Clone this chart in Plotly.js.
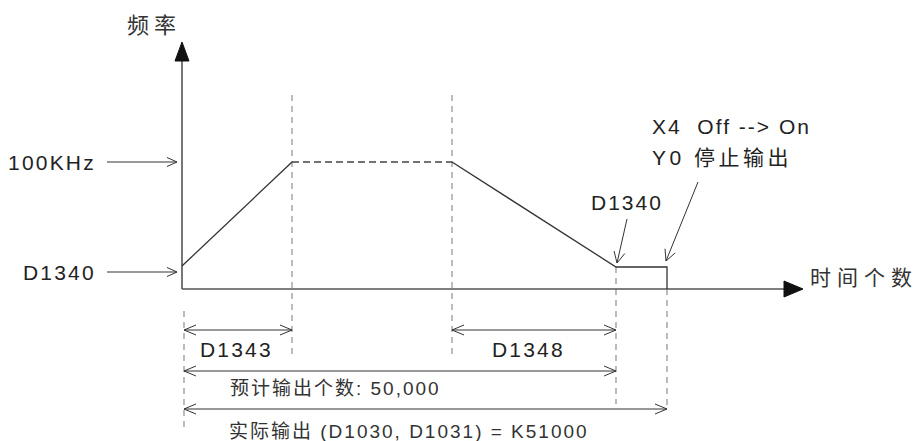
<!DOCTYPE html>
<html>
<head>
<meta charset="utf-8">
<script src="https://cdn.plot.ly/plotly-3.0.1.min.js"></script>
<style>
    html, body { margin: 0; padding: 0; background: #fff; }
    #chart { width: 918px; height: 441px; }
</style>
</head>
<body>
<div id="chart"></div>
<script>
// Diagram units: origin at the axis corner, 1 unit = 1 px
// Frequency profile: accel ramp, plateau (dashed), decel ramp, tail at D1340, stop
const profileX = [0, 110, 270, 434, 485, 485];
const profileY = [23, 127, 127, 22, 22, 0];

// Axis ends
const axisXEnd = 621;
const axisYEnd = 247;

// Vertical dashed marker lines
const markerX = [2, 110, 270, 434, 485];
const markerTop = [-22, 194, 194, 22, 0];
const markerBottom = [-143, -67, -67, -115, -120];

// Dimension (double headed) arrows under the axis
const dimFrom = [2, 270, 2, 2];
const dimTo = [110, 434, 434, 485];
const dimY = [-41, -41, -82, -120];
const dimLabels = ['D1343', 'D1348', '预计输出个数: 50,000', '实际输出 (D1030, D1031) = K51000'];
const dimLabelX = [54, 346, 153, 227];
const dimLabelY = [-60, -60, -99, -142];

// Level arrows on the frequency axis
const levelLabels = ['100KHz', 'D1340'];
const levelY = [127, 17];
const levelArrowFrom = -75;
const levelArrowTo = -5;

// Pointer arrows near the tail
const pointerLabels = ['D1340', 'X4  Off --> On', 'Y0 停止输出'];
const pointerLabelX = [445, 468, 468];
const pointerLabelY = [87, 163, 132];
const pointerFrom = [[445, 70], [516, 107]];
const pointerTo = [[435, 26], [484, 28]];

const FONT = 'Liberation Sans, Arial, Noto Sans CJK SC, sans-serif';
const INK = '#222';

function barbs(xs, ys, tip, from, len, half) {
    const dx = tip[0] - from[0], dy = tip[1] - from[1];
    const d = Math.hypot(dx, dy);
    const ux = dx / d, uy = dy / d;
    const nx = -uy, ny = ux;
    xs.push(tip[0] - ux * len + nx * half, tip[0], tip[0] - ux * len - nx * half, null);
    ys.push(tip[1] - uy * len + ny * half, tip[1], tip[1] - uy * len - ny * half, null);
}

function spaced(text, px) {
    return '<span style="letter-spacing:' + px + 'px">' + text + '</span>';
}

const traces = [];

// vertical markers
const mx = [], my = [];
markerX.forEach((x, i) => { mx.push(x, x, null); my.push(markerTop[i], markerBottom[i], null); });
traces.push({ x: mx, y: my, mode: 'lines', line: { color: '#8f8f8f', width: 1.2, dash: '6px,5px' } });

// axes
traces.push({ x: [0, 0, null, 0, axisXEnd - 10], y: [axisYEnd - 10, 0, null, 0, 0], mode: 'lines',
    line: { color: '#555', width: 1.6 } });
// axis arrowheads (filled)
traces.push({ x: [0, -7, 7, 0], y: [axisYEnd, axisYEnd - 19, axisYEnd - 19, axisYEnd], mode: 'lines',
    fill: 'toself', fillcolor: '#111', line: { color: '#111', width: 1 } });
traces.push({ x: [axisXEnd, axisXEnd - 19, axisXEnd - 19, axisXEnd], y: [0, 8, -8, 0], mode: 'lines',
    fill: 'toself', fillcolor: '#111', line: { color: '#111', width: 1 } });

// profile: solid parts and dashed plateau
const sx = [profileX[0], profileX[1], null, profileX[2], profileX[3], profileX[4], profileX[5]];
const sy = [profileY[0], profileY[1], null, profileY[2], profileY[3], profileY[4], profileY[5]];
traces.push({ x: sx, y: sy, mode: 'lines', line: { color: '#333', width: 1.3 } });
traces.push({ x: [profileX[1], profileX[2]], y: [profileY[1], profileY[2]], mode: 'lines',
    line: { color: '#444', width: 1.3, dash: '7px,4px' } });

// thin arrows (level, dimension, pointer)
const ax = [], ay = [];
levelY.forEach(y => {
    ax.push(levelArrowFrom, levelArrowTo, null); ay.push(y, y, null);
    barbs(ax, ay, [levelArrowTo, y], [levelArrowFrom, y], 10, 4.5);
});
dimY.forEach((y, i) => {
    ax.push(dimFrom[i], dimTo[i], null); ay.push(y, y, null);
    barbs(ax, ay, [dimTo[i], y], [dimFrom[i], y], 12, 5);
    barbs(ax, ay, [dimFrom[i], y], [dimTo[i], y], 12, 5);
});
pointerFrom.forEach((p, i) => {
    const t = pointerTo[i];
    ax.push(p[0], t[0], null); ay.push(p[1], t[1], null);
    barbs(ax, ay, t, p, 11, 5.5);
});
traces.push({ x: ax, y: ay, mode: 'lines', line: { color: '#333', width: 1 } });

const annotations = [];
function label(text, x, y, anchor, size, color) {
    annotations.push({ x: x, y: y, xref: 'x', yref: 'y', text: text, showarrow: false,
        xanchor: anchor, yanchor: 'middle', font: { family: FONT, size: size, color: color || INK } });
}

label(spaced('频率', 5), -28, 264, 'center', 22, '#333');
label(spaced('时间个数', 6), 626, 12, 'left', 21, '#333');
levelLabels.forEach((t, i) => label(spaced(t, 2.2), -84, levelY[i], 'right', 21));
dimLabels.forEach((t, i) => label(spaced(t, i < 2 ? 2.2 : 2), dimLabelX[i], dimLabelY[i], 'center', i < 2 ? 21 : 19,
    i < 2 ? INK : '#333'));
pointerLabels.forEach((t, i) => label(spaced(t, i === 2 ? 3.5 : 2), pointerLabelX[i], pointerLabelY[i],
    i === 0 ? 'center' : 'left', 21));

const layout = {
    width: 918, height: 441,
    margin: { l: 0, r: 0, t: 0, b: 0 },
    showlegend: false,
    paper_bgcolor: '#fff', plot_bgcolor: '#fff',
    xaxis: { range: [-182, 736], visible: false, fixedrange: true },
    yaxis: { range: [-152, 289], visible: false, fixedrange: true },
    annotations: annotations
};

Plotly.newPlot('chart', traces.map(t => Object.assign({ type: 'scatter', hoverinfo: 'skip' }, t)), layout,
    { staticPlot: true, displayModeBar: false });
</script>
</body>
</html>
